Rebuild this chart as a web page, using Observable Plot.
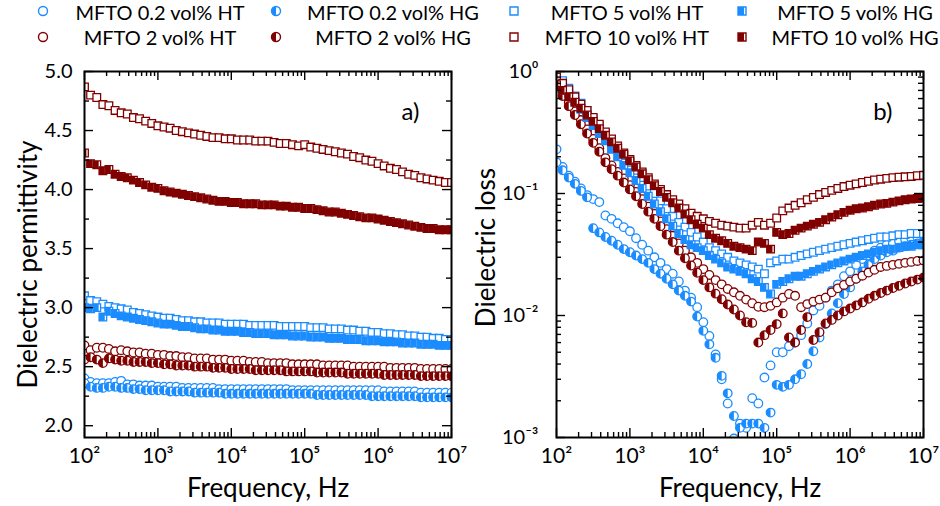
<!DOCTYPE html>
<html>
<head>
<meta charset="utf-8">
<script src="https://cdn.jsdelivr.net/npm/d3@7"></script>
<script src="https://cdn.jsdelivr.net/npm/@observablehq/plot@0.6"></script>
<style>
  body { margin: 0; background: #fff; }
  #fig { position: relative; width: 940px; height: 506px; font-family: Lato, "DejaVu Sans", sans-serif; }
  #fig > svg { position: absolute; }
</style>
</head>
<body>
<div id="fig"></div>
<script>
// Measurement frequencies (Hz), 12 points per decade
const freq = [
  100, 121, 147, 178, 215, 261, 316, 383, 464, 562, 681, 825,
  1000, 1212, 1468, 1778, 2154, 2610, 3162, 3831, 4642, 5623, 6813, 8254,
  1e4, 1.21e4, 1.47e4, 1.78e4, 2.15e4, 2.61e4, 3.16e4, 3.83e4, 4.64e4, 5.62e4, 6.81e4, 8.25e4,
  1e5, 1.21e5, 1.47e5, 1.78e5, 2.15e5, 2.61e5, 3.16e5, 3.83e5, 4.64e5, 5.62e5, 6.81e5, 8.25e5,
  1e6, 1.21e6, 1.47e6, 1.78e6, 2.15e6, 2.61e6, 3.16e6, 3.83e6, 4.64e6, 5.62e6, 6.81e6, 8.25e6,
  1e7
];

// Dielectric permittivity
const epsHT02 = [
  2.40, 2.37, 2.36, 2.36, 2.36, 2.37, 2.38, 2.35, 2.35, 2.34, 2.34, 2.34,
  2.33, 2.33, 2.33, 2.33, 2.32, 2.32, 2.32, 2.32, 2.32, 2.32, 2.31, 2.31,
  2.31, 2.31, 2.31, 2.31, 2.31, 2.31, 2.31, 2.31, 2.31, 2.31, 2.30, 2.30,
  2.30, 2.30, 2.30, 2.30, 2.30, 2.30, 2.30, 2.30, 2.30, 2.30, 2.30, 2.30,
  2.30, 2.29, 2.29, 2.29, 2.29, 2.29, 2.29, 2.28, 2.28, 2.28, 2.28, 2.28,
  2.28
];
const epsHG02 = [
  2.36, 2.33, 2.32, 2.32, 2.33, 2.33, 2.32, 2.32, 2.31, 2.31, 2.30, 2.30,
  2.30, 2.30, 2.29, 2.29, 2.29, 2.29, 2.28, 2.28, 2.28, 2.28, 2.28, 2.27,
  2.27, 2.27, 2.27, 2.27, 2.27, 2.27, 2.27, 2.27, 2.27, 2.27, 2.27, 2.27,
  2.27, 2.27, 2.26, 2.26, 2.26, 2.26, 2.26, 2.26, 2.26, 2.26, 2.26, 2.25,
  2.25, 2.25, 2.25, 2.25, 2.25, 2.25, 2.25, 2.24, 2.24, 2.24, 2.24, 2.24,
  2.24
];
const epsHT2 = [
  2.68, 2.64, 2.66, 2.66, 2.65, 2.63, 2.64, 2.63, 2.62, 2.62, 2.61, 2.61,
  2.60, 2.60, 2.59, 2.59, 2.58, 2.58, 2.57, 2.57, 2.57, 2.56, 2.56, 2.56,
  2.55, 2.55, 2.55, 2.54, 2.54, 2.54, 2.53, 2.53, 2.53, 2.53, 2.52, 2.52,
  2.52, 2.52, 2.52, 2.51, 2.51, 2.51, 2.51, 2.51, 2.50, 2.50, 2.50, 2.50,
  2.50, 2.50, 2.49, 2.49, 2.49, 2.49, 2.49, 2.48, 2.48, 2.48, 2.48, 2.48,
  2.48
];
const epsHG2 = [
  2.56, 2.58, 2.56, 2.53, 2.57, 2.56, 2.55, 2.55, 2.54, 2.54, 2.54, 2.53,
  2.53, 2.52, 2.52, 2.51, 2.51, 2.51, 2.50, 2.50, 2.50, 2.49, 2.49, 2.49,
  2.48, 2.48, 2.48, 2.48, 2.47, 2.47, 2.47, 2.47, 2.47, 2.46, 2.46, 2.46,
  2.46, 2.46, 2.45, 2.45, 2.45, 2.45, 2.45, 2.44, 2.44, 2.44, 2.44, 2.44,
  2.44, 2.43, 2.43, 2.43, 2.43, 2.43, 2.43, 2.42, 2.42, 2.42, 2.42, 2.42,
  2.42
];
const epsHT5 = [
  3.10, 3.06, 3.05, 3.03, 3.01, 3.00, 2.99, 2.98, 2.96, 2.95, 2.94, 2.93,
  2.92, 2.91, 2.91, 2.90, 2.89, 2.89, 2.88, 2.88, 2.87, 2.87, 2.87, 2.86,
  2.86, 2.86, 2.86, 2.85, 2.85, 2.85, 2.85, 2.85, 2.84, 2.84, 2.84, 2.84,
  2.84, 2.83, 2.83, 2.83, 2.82, 2.82, 2.82, 2.81, 2.81, 2.80, 2.80, 2.79,
  2.79, 2.78, 2.78, 2.77, 2.77, 2.76, 2.76, 2.75, 2.75, 2.74, 2.74, 2.73,
  2.73
];
const epsHG5 = [
  3.00, 2.99, 3.00, 2.92, 2.97, 2.95, 2.93, 2.92, 2.91, 2.90, 2.89, 2.88,
  2.87, 2.86, 2.86, 2.85, 2.84, 2.84, 2.83, 2.82, 2.82, 2.81, 2.81, 2.80,
  2.80, 2.80, 2.79, 2.79, 2.78, 2.78, 2.78, 2.77, 2.77, 2.77, 2.76, 2.76,
  2.76, 2.75, 2.75, 2.75, 2.74, 2.74, 2.74, 2.73, 2.73, 2.73, 2.72, 2.72,
  2.72, 2.71, 2.71, 2.71, 2.70, 2.70, 2.70, 2.69, 2.69, 2.69, 2.68, 2.68,
  2.68
];
const epsHT10 = [
  4.87, 4.80, 4.78, 4.72, 4.71, 4.67, 4.65, 4.64, 4.61, 4.60, 4.58, 4.56,
  4.54, 4.53, 4.52, 4.50, 4.49, 4.48, 4.47, 4.46, 4.45, 4.44, 4.44, 4.43,
  4.43, 4.42, 4.42, 4.42, 4.41, 4.41, 4.41, 4.40, 4.39, 4.39, 4.38, 4.37,
  4.38, 4.36, 4.35, 4.34, 4.33, 4.32, 4.31, 4.30, 4.28, 4.27, 4.25, 4.24,
  4.22, 4.20, 4.18, 4.17, 4.15, 4.13, 4.12, 4.10, 4.09, 4.08, 4.07, 4.06,
  4.06
];
const epsHG10 = [
  4.31, 4.22, 4.21, 4.16, 4.17, 4.13, 4.11, 4.10, 4.08, 4.06, 4.04, 4.02,
  4.01, 3.99, 3.98, 3.97, 3.96, 3.95, 3.94, 3.93, 3.92, 3.91, 3.90, 3.90,
  3.89, 3.89, 3.88, 3.88, 3.88, 3.87, 3.87, 3.87, 3.86, 3.86, 3.85, 3.85,
  3.84, 3.84, 3.83, 3.82, 3.81, 3.81, 3.80, 3.79, 3.78, 3.77, 3.76, 3.76,
  3.75, 3.74, 3.73, 3.72, 3.71, 3.70, 3.69, 3.68, 3.67, 3.67, 3.66, 3.66,
  3.66
];

// Dielectric loss
const lossHT02 = [
  0.23, 0.165, 0.14, 0.125, 0.11, 0.097, 0.09, 0.085, 0.066, 0.062, 0.057, 0.053,
  0.049, 0.043, 0.038, 0.034, 0.030, 0.027, 0.024, 0.022, 0.019, 0.016, 0.014, 0.0117,
  0.0088, 0.0068, 0.0048, 0.0030, 0.0019, 0.00098, 0.0013, 0.0012, 0.0021, 0.0019, 0.0031, 0.0039,
  0.0050, 0.0050, 0.0056, 0.0060, 0.0069, 0.0086, 0.011, 0.012, 0.014, 0.016, 0.018, 0.021,
  0.023, 0.026, 0.029, 0.031, 0.034, 0.036, 0.038, 0.039, 0.041, 0.042, 0.043, 0.044,
  0.045
];
const lossHG02 = [
  0.18, 0.155, 0.135, 0.12, 0.105, 0.093, 0.052, 0.048, 0.044, 0.041, 0.038, 0.035,
  0.033, 0.031, 0.029, 0.027, 0.024, 0.022, 0.020, 0.018, 0.016, 0.0145, 0.013, 0.0098,
  0.0075, 0.0058, 0.0045, 0.0032, 0.0023, 0.0015, 0.0012, 0.0013, 0.0013, 0.0013, 0.0012, 0.0016,
  0.0027, 0.0026, 0.0027, 0.0030, 0.0033, 0.0040, 0.0051, 0.0066, 0.0085, 0.0104, 0.0126, 0.015,
  0.017, 0.020, 0.023, 0.026, 0.029, 0.031, 0.033, 0.034, 0.036, 0.037, 0.038, 0.039,
  0.040
];
const lossHT2 = [
  0.82, 0.68, 0.56, 0.47, 0.40, 0.335, 0.28, 0.235, 0.195, 0.17, 0.15, 0.133,
  0.117, 0.103, 0.090, 0.078, 0.068, 0.059, 0.051, 0.045, 0.039, 0.034, 0.030, 0.027,
  0.024, 0.0215, 0.0195, 0.018, 0.0165, 0.0155, 0.0145, 0.0135, 0.0126, 0.0118, 0.0117, 0.0120,
  0.0128, 0.0140, 0.0150, 0.0145, 0.0117, 0.0124, 0.0130, 0.0135, 0.0140, 0.0155, 0.0167, 0.0178,
  0.019, 0.020, 0.0212, 0.0225, 0.0237, 0.025, 0.0255, 0.026, 0.0265, 0.027, 0.0275, 0.028,
  0.0283
];
const lossHG2 = [
  0.76, 0.63, 0.52, 0.44, 0.37, 0.31, 0.26, 0.22, 0.18, 0.158, 0.14, 0.123,
  0.108, 0.095, 0.082, 0.071, 0.062, 0.054, 0.046, 0.040, 0.034, 0.0295, 0.0257, 0.0224,
  0.0195, 0.017, 0.0151, 0.0136, 0.0123, 0.0112, 0.010, 0.0088, 0.0087, 0.0060, 0.0069, 0.0076,
  0.0085, 0.0104, 0.0066, 0.0060, 0.0076, 0.0097, 0.0063, 0.0073, 0.0086, 0.0092, 0.0100, 0.0108,
  0.0114, 0.0121, 0.0128, 0.0137, 0.0145, 0.0153, 0.0160, 0.0168, 0.0175, 0.0183, 0.0190, 0.0197,
  0.0205
];
const lossHT5 = [
  0.97, 0.84, 0.73, 0.63, 0.55, 0.48, 0.41, 0.36, 0.31, 0.27, 0.235, 0.205,
  0.18, 0.155, 0.135, 0.115, 0.10, 0.087, 0.075, 0.065, 0.058, 0.053, 0.048, 0.044,
  0.040, 0.036, 0.034, 0.032, 0.030, 0.028, 0.027, 0.026, 0.025, 0.024, 0.022, 0.027,
  0.028, 0.029, 0.029, 0.030, 0.031, 0.032, 0.033, 0.034, 0.035, 0.036, 0.037, 0.038,
  0.039, 0.040, 0.041, 0.042, 0.043, 0.044, 0.044, 0.045, 0.046, 0.046, 0.047, 0.047,
  0.047
];
const lossHG5 = [
  0.88, 0.76, 0.66, 0.57, 0.49, 0.42, 0.36, 0.31, 0.27, 0.23, 0.20, 0.17,
  0.148, 0.128, 0.110, 0.095, 0.082, 0.071, 0.062, 0.054, 0.047, 0.042, 0.038, 0.036,
  0.034, 0.031, 0.029, 0.027, 0.025, 0.024, 0.023, 0.022, 0.020, 0.019, 0.017, 0.015,
  0.018, 0.019, 0.020, 0.021, 0.021, 0.022, 0.023, 0.024, 0.025, 0.026, 0.027, 0.028,
  0.029, 0.030, 0.031, 0.032, 0.033, 0.034, 0.035, 0.035, 0.036, 0.037, 0.037, 0.038,
  0.038
];
const lossHT10 = [
  0.90, 0.80, 0.71, 0.62, 0.54, 0.48, 0.42, 0.37, 0.32, 0.28, 0.245, 0.215,
  0.19, 0.17, 0.15, 0.135, 0.12, 0.108, 0.098, 0.089, 0.082, 0.075, 0.069, 0.065,
  0.062, 0.059, 0.057, 0.055, 0.054, 0.053, 0.052, 0.052, 0.055, 0.058, 0.055, 0.057,
  0.063, 0.072, 0.076, 0.080, 0.084, 0.089, 0.093, 0.098, 0.102, 0.106, 0.110, 0.114,
  0.117, 0.120, 0.123, 0.126, 0.129, 0.131, 0.133, 0.135, 0.136, 0.137, 0.138, 0.140,
  0.141
];
const lossHG10 = [
  0.78, 0.70, 0.62, 0.56, 0.50, 0.44, 0.39, 0.34, 0.30, 0.265, 0.235, 0.21,
  0.185, 0.165, 0.145, 0.13, 0.116, 0.104, 0.093, 0.084, 0.076, 0.068, 0.061, 0.056,
  0.052, 0.046, 0.043, 0.041, 0.039, 0.037, 0.036, 0.035, 0.034, 0.040, 0.039, 0.035,
  0.048, 0.046, 0.047, 0.050, 0.052, 0.054, 0.056, 0.058, 0.061, 0.064, 0.067, 0.070,
  0.073, 0.075, 0.076, 0.078, 0.080, 0.082, 0.083, 0.085, 0.087, 0.089, 0.090, 0.091,
  0.092
];

// Legend entries (two rows of four)
const legendLabels = [
  "MFTO 0.2 vol% HT", "MFTO 0.2 vol% HG", "MFTO 5 vol% HT", "MFTO 5 vol% HG",
  "MFTO 2 vol% HT", "MFTO 2 vol% HG", "MFTO 10 vol% HT", "MFTO 10 vol% HG"
];

// Axis ticks and labels
const freqTicks = [1e2, 1e3, 1e4, 1e5, 1e6, 1e7];
const freqTickLabels = ["10²", "10³", "10⁴", "10⁵", "10⁶", "10⁷"];
const epsTicks = [2.0, 2.5, 3.0, 3.5, 4.0, 4.5, 5.0];
const epsTickLabels = ["2.0", "2.5", "3.0", "3.5", "4.0", "4.5", "5.0"];
const epsMinorTicks = [2.25, 2.75, 3.25, 3.75, 4.25, 4.75];
const lossTicks = [1e-3, 1e-2, 1e-1, 1];
const lossTickLabels = ["10⁻³", "10⁻²", "10⁻¹", "10⁰"];
const titles = {x: "Frequency, Hz", eps: "Dielectric permittivity", loss: "Dielectric loss"};
const panelTags = ["a)", "b)"];

const BLUE = "#1a8cff";
const RED = "#800000";
const R = 4.3;

// Left-half disc and left-three-quarter square for half-filled markers
const halfCircle = {
  draw(ctx, size) {
    const r = Math.sqrt(size / Math.PI);
    ctx.moveTo(0, -r);
    ctx.arc(0, 0, r, -Math.PI / 2, Math.PI / 2, true);
    ctx.closePath();
  }
};
const halfSquare = {
  draw(ctx, size) {
    const s = Math.sqrt(size) / 2;
    ctx.rect(-s, -s, 1.5 * s, 2 * s);
  }
};

const series = [
  {label: legendLabels[0], color: BLUE, symbol: "circle", half: false, eps: epsHT02, loss: lossHT02},
  {label: legendLabels[1], color: BLUE, symbol: "circle", half: true, eps: epsHG02, loss: lossHG02},
  {label: legendLabels[4], color: RED, symbol: "circle", half: false, eps: epsHT2, loss: lossHT2},
  {label: legendLabels[5], color: RED, symbol: "circle", half: true, eps: epsHG2, loss: lossHG2},
  {label: legendLabels[2], color: BLUE, symbol: "square", half: false, eps: epsHT5, loss: lossHT5},
  {label: legendLabels[3], color: BLUE, symbol: "square", half: true, eps: epsHG5, loss: lossHG5},
  {label: legendLabels[6], color: RED, symbol: "square", half: false, eps: epsHT10, loss: lossHT10},
  {label: legendLabels[7], color: RED, symbol: "square", half: true, eps: epsHG10, loss: lossHG10}
];

function seriesMarks(s, key) {
  const rows = freq.map((f, i) => ({f, v: s[key][i]}));
  const marks = [
    Plot.dot(rows, {x: "f", y: "v", r: R, symbol: s.symbol, fill: "white", stroke: s.color, strokeWidth: 1.3, clip: true})
  ];
  if (s.half) {
    marks.push(Plot.dot(rows, {x: "f", y: "v", r: R, symbol: s.symbol === "circle" ? halfCircle : halfSquare, fill: s.color, clip: true}));
  }
  return marks;
}

const fig = document.getElementById("fig");
const FONT = 'Lato, "DejaVu Sans", sans-serif';
const innerW = 367, innerH = 366;
const freqMinor = d3.scaleLog().domain([1e2, 1e7]).ticks().filter(d => !freqTicks.includes(d));
const lossMinor = d3.scaleLog().domain([1e-3, 1]).ticks().filter(d => !lossTicks.some(t => Math.abs(t - d) / t < 1e-9));

// Ticks drawn inside the frame on all four sides
function inwardTicks(xMajor, xMinor, yMajor, yMinor) {
  const t = {stroke: "black", strokeWidth: 1.4};
  return [
    Plot.tickX(xMajor, {...t, insetTop: innerH - 9}),
    Plot.tickX(xMinor, {...t, insetTop: innerH - 5}),
    Plot.tickX(xMajor, {...t, insetBottom: innerH - 9}),
    Plot.tickX(xMinor, {...t, insetBottom: innerH - 5}),
    Plot.tickY(yMajor, {...t, insetRight: innerW - 9}),
    Plot.tickY(yMinor, {...t, insetRight: innerW - 5}),
    Plot.tickY(yMajor, {...t, insetLeft: innerW - 9}),
    Plot.tickY(yMinor, {...t, insetLeft: innerW - 5})
  ];
}

function panel(o) {
  const svg = Plot.plot({
    width: 470,
    height: 456,
    marginLeft: o.marginLeft,
    marginRight: 470 - o.marginLeft - innerW,
    marginTop: 21,
    marginBottom: 69,
    x: {type: "log", domain: [1e2, 1e7]},
    y: o.y,
    style: {fontFamily: FONT, fontSize: "20px", background: "transparent", overflow: "visible", color: "black"},
    marks: [
      ...series.flatMap(s => seriesMarks(s, o.key)),
      ...inwardTicks(freqTicks, freqMinor, o.yTicks, o.yMinor),
      Plot.frame({stroke: "black", strokeWidth: 2}),
      Plot.axisX({ticks: freqTicks, tickSize: 0, tickPadding: 11, label: null, fontSize: 21,
        tickFormat: d => freqTickLabels[freqTicks.indexOf(d)]}),
      Plot.axisY({ticks: o.yTicks, tickSize: 0, tickPadding: o.tickPad, label: null, fontSize: 20,
        tickFormat: d => o.yTickLabels[o.yTicks.findIndex(t => Math.abs(t - d) < 1e-9 * Math.max(1, t))]}),
      Plot.text([titles.x], {frameAnchor: "bottom", textAnchor: "middle", dy: 51, fontSize: 26, lineAnchor: "middle"}),
      Plot.text([o.title], {frameAnchor: "left", textAnchor: "middle", rotate: -90, dx: o.titleDx, dy: o.titleDy, fontSize: 26, lineAnchor: "middle"}),
      Plot.text([o.tag], {frameAnchor: "top-right", textAnchor: "end", dx: o.tagDx, dy: 41, fontSize: 24, lineAnchor: "middle"})
    ]
  });
  svg.style.left = o.left + "px";
  svg.style.top = "50px";
  fig.appendChild(svg);
}

panel({
  key: "eps", left: 0, marginLeft: 84,
  y: {domain: [1.9, 5.0]},
  yTicks: epsTicks, yTickLabels: epsTickLabels, yMinor: epsMinorTicks, tickPad: 12,
  title: titles.eps, titleDx: -56, titleDy: 10, tag: panelTags[0], tagDx: -32
});
panel({
  key: "loss", left: 470, marginLeft: 86,
  y: {type: "log", domain: [1e-3, 1]},
  yTicks: lossTicks, yTickLabels: lossTickLabels, yMinor: lossMinor, tickPad: 18,
  title: titles.loss, titleDx: -70, titleDy: -7, tag: panelTags[1], tagDx: -31
});

// Legend across the top
const legendOrder = [
  {color: BLUE, symbol: d3.symbolCircle, half: false},
  {color: BLUE, symbol: d3.symbolCircle, half: true},
  {color: BLUE, symbol: d3.symbolSquare, half: false},
  {color: BLUE, symbol: d3.symbolSquare, half: true},
  {color: RED, symbol: d3.symbolCircle, half: false},
  {color: RED, symbol: d3.symbolCircle, half: true},
  {color: RED, symbol: d3.symbolSquare, half: false},
  {color: RED, symbol: d3.symbolSquare, half: true}
];
const iconX = [43, 276, 514, 742];
const textX = [160, 393, 627, 855];
const iconY = [11, 37];
const baselineY = [20, 45];
const legend = d3.select(fig).append("svg")
  .attr("width", 940).attr("height", 50)
  .style("left", "0px").style("top", "0px")
  .attr("font-family", FONT).attr("font-size", 20);
legendLabels.forEach((label, i) => {
  const col = i % 4, row = Math.floor(i / 4);
  const spec = legendOrder[i];
  const size = Math.PI * 4.5 * 4.5;
  const g = legend.append("g").attr("transform", `translate(${iconX[col]},${iconY[row]})`);
  g.append("path").attr("d", d3.symbol(spec.symbol, size)()).attr("fill", "white").attr("stroke", spec.color).attr("stroke-width", 1.4);
  if (spec.half) {
    g.append("path").attr("d", d3.symbol(spec.symbol === d3.symbolCircle ? halfCircle : halfSquare, size)()).attr("fill", spec.color);
  }
  legend.append("text")
    .attr("x", textX[col]).attr("y", baselineY[row])
    .attr("text-anchor", "middle").attr("fill", "black")
    .text(label);
});
</script>
</body>
</html>
